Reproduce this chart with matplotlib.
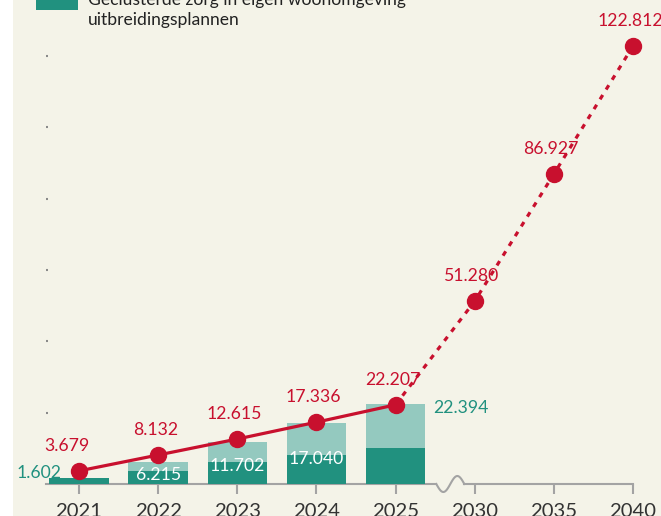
import matplotlib.pyplot as plt
import matplotlib.patches as patches
import numpy as np

plt.rcParams['font.family'] = ['Lato', 'DejaVu Sans']

# data
years = ['2021', '2022', '2023', '2024', '2025', '2030', '2035', '2040']
demand = [3679, 8132, 12615, 17336, 22207, 51280, 86927, 122812]
bar_years = ['2021', '2022', '2023', '2024', '2025']
geclusterd = [1602, 3700, 6200, 8200, 10100]
totaal = [1602, 6215, 11702, 17040, 22394]
legend_text = 'Geclusterde zorg in eigen woonomgeving\nuitbreidingsplannen'

# kleuren
cream = '#f4f3e8'
red = '#c8102e'
teal_dark = '#21917f'
teal_light = '#94c9bf'
grey = '#a3a3a3'

W, H = 661, 516
fig = plt.figure(figsize=(W / 100, H / 100), dpi=100, facecolor=cream)
fig.patches.append(patches.Rectangle((0, 0), 13 / W, 1, transform=fig.transFigure,
                                     facecolor='white', edgecolor='none', zorder=0))

ax = fig.add_axes([46 / W, 32 / H, (W - 46) / W, 484 / H])
ax.patch.set_visible(False)
x = np.arange(len(years))
xb = np.arange(len(bar_years))
ax.set_xlim(-0.417, 7.354)
ax.set_ylim(0, 135730)
for s in ax.spines.values():
    s.set_visible(False)

# staven
uitbreiding = [t - g for t, g in zip(totaal, geclusterd)]
ax.bar(xb, geclusterd, width=0.75, color=teal_dark, zorder=2)
ax.bar(xb, uitbreiding, bottom=geclusterd, width=0.75, color=teal_light, zorder=2)

# lijn
ax.plot(x[:5], demand[:5], color=red, lw=2.3, zorder=4, solid_capstyle='round')
ax.plot(x[4:], demand[4:], color=red, lw=2.3, ls=(0, (1.6, 2.0)), zorder=4)
ax.plot(x, demand, 'o', color=red, ms=11.5, zorder=5)

lab_fs = 12.7
for i, v in enumerate(demand):
    lab = f'{v:,}'.replace(',', '.')
    dx = -0.15 if i == 0 else -0.035
    ax.annotate(lab, (x[i] + dx, v), xytext=(0, 18), textcoords='offset points',
                ha='center', va='center', color=red, fontsize=lab_fs,
                annotation_clip=False)

# staaflabels
for i, v in enumerate(totaal):
    lab = f'{v:,}'.replace(',', '.')
    if i == 0:
        ax.annotate(lab, (-0.215, v), xytext=(0, 3.5), textcoords='offset points',
                    ha='right', va='center', color=teal_dark, fontsize=lab_fs)
    elif i == 4:
        ax.annotate(lab, (4.473, v), xytext=(0, -3), textcoords='offset points',
                    ha='left', va='center', color=teal_dark, fontsize=lab_fs)
    else:
        ax.annotate(lab, (xb[i], geclusterd[i]), xytext=(0, -3),
                    textcoords='offset points', ha='center', va='center',
                    color='white', fontsize=lab_fs)

# x-as met onderbreking
px = 1 / 79.14
py = 135730 / 484
ax.plot([-0.417, 4.515], [0, 0], color=grey, lw=1.5, clip_on=False, zorder=1)
t = np.linspace(0, 1, 40)
sx = 4.515 + t * (28 * px)
sy = -np.sin(t * 2 * np.pi) * 8 * py
ax.plot(sx, sy, color=grey, lw=1.5, clip_on=False, zorder=1)
ax.plot([4.515 + 28 * px, 7], [0, 0], color=grey, lw=1.5, clip_on=False, zorder=1)

ax.set_xticks(x)
ax.set_xticklabels(years)
ax.tick_params(axis='x', direction='out', length=7.5, width=1.5, color=grey,
               pad=6.5, labelsize=14.6, labelcolor='#333333')
ax.set_yticks(np.arange(20000, 120001, 20000))
ax.tick_params(axis='y', direction='in', length=1.5, width=1.5, color='#8a8a8a',
               labelleft=False)

# legenda
fig.patches.append(patches.Rectangle((36 / W, 1 - 10 / H), 42 / W, 10 / H,
                                     transform=fig.transFigure, facecolor=teal_dark,
                                     edgecolor='none'))
fig.text(88 / W, 1 - 25 / H, legend_text, ha='left', va='baseline',
         fontsize=12.6, color='#222222', linespacing=1.3)

fig.savefig('out.png', dpi=100, facecolor=cream)
